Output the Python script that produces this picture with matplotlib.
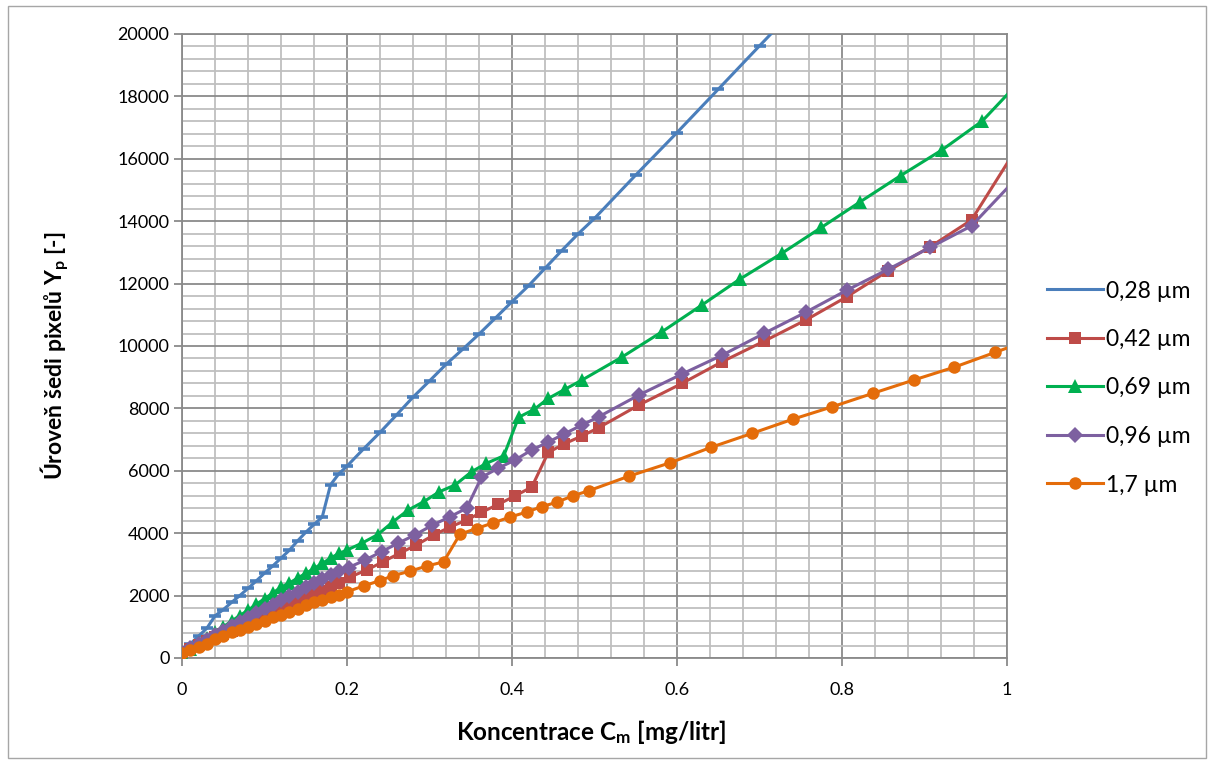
import matplotlib
matplotlib.use("Agg")
import matplotlib.pyplot as plt
from matplotlib.lines import Line2D
from matplotlib.patches import Rectangle
from matplotlib.ticker import MultipleLocator

plt.rcParams['font.family'] = ['Lato', 'DejaVu Sans']
plt.rcParams['mathtext.fontset'] = 'custom'
plt.rcParams['mathtext.rm'] = 'Lato:bold'

# Concentration [mg/litr] and grey level for each particle size
x_028 = [0.00, 0.01, 0.02, 0.03, 0.04, 0.05, 0.06, 0.07, 0.08, 0.09, 0.10,
         0.11, 0.12, 0.13, 0.14, 0.15, 0.16, 0.17, 0.18, 0.19, 0.20,
         0.22, 0.24, 0.26, 0.28, 0.30, 0.32, 0.34, 0.36, 0.38, 0.40,
         0.42, 0.44, 0.46, 0.48, 0.50, 0.55, 0.60, 0.65, 0.70, 0.75]
y_028 = [200, 450, 700, 950, 1350, 1550, 1780, 2000, 2230, 2470, 2720,
         2950, 3200, 3450, 3750, 4030, 4280, 4520, 5550, 5900, 6150,
         6700, 7230, 7790, 8360, 8880, 9410, 9890, 10380, 10900, 11420,
         11930, 12490, 13050, 13590, 14090, 15480, 16840, 18230, 19620, 21000]

x_042 = [0.00, 0.01, 0.02, 0.03, 0.04, 0.05, 0.06, 0.07, 0.08, 0.09, 0.10,
         0.11, 0.12, 0.13, 0.14, 0.15, 0.16, 0.17, 0.18, 0.19,
         0.204, 0.224, 0.244, 0.264, 0.284, 0.305, 0.325, 0.345, 0.363,
         0.383, 0.404, 0.424, 0.444, 0.463, 0.485, 0.505, 0.554, 0.606,
         0.655, 0.706, 0.756, 0.806, 0.856, 0.907, 0.957, 1.05]
y_042 = [180, 300, 420, 540, 660, 770, 880, 1000, 1110, 1230, 1350,
         1470, 1580, 1700, 1810, 1930, 2040, 2160, 2280, 2400,
         2600, 2820, 3090, 3360, 3620, 3940, 4200, 4420, 4670,
         4920, 5200, 5480, 6590, 6860, 7120, 7380, 8110, 8800,
         9500, 10160, 10830, 11580, 12410, 13180, 14040, 17950]

x_069 = [0.00, 0.01, 0.02, 0.03, 0.04, 0.05, 0.06, 0.07, 0.08, 0.09, 0.10,
         0.11, 0.12, 0.13, 0.14, 0.15, 0.16, 0.17, 0.18, 0.19, 0.20,
         0.218, 0.237, 0.256, 0.274, 0.293, 0.312, 0.331, 0.351, 0.369,
         0.390, 0.408, 0.427, 0.444, 0.464, 0.485, 0.533, 0.582, 0.630,
         0.676, 0.727, 0.775, 0.822, 0.871, 0.921, 0.970, 1.02]
y_069 = [120, 300, 480, 650, 830, 1000, 1180, 1360, 1530, 1720, 1900,
         2080, 2270, 2400, 2560, 2710, 2870, 3030, 3200, 3350, 3460,
         3680, 3950, 4370, 4740, 5010, 5330, 5545, 5970, 6240,
         6480, 7715, 7970, 8320, 8610, 8910, 9640, 10460, 11310,
         12140, 12970, 13800, 14620, 15460, 16280, 17210, 18610]

x_096 = [0.00, 0.01, 0.02, 0.03, 0.04, 0.05, 0.06, 0.07, 0.08, 0.09, 0.10,
         0.11, 0.12, 0.13, 0.14, 0.15, 0.16, 0.17, 0.18, 0.19,
         0.202, 0.222, 0.242, 0.262, 0.282, 0.303, 0.325, 0.345, 0.363,
         0.383, 0.404, 0.424, 0.444, 0.463, 0.485, 0.505, 0.554, 0.606,
         0.655, 0.706, 0.756, 0.806, 0.856, 0.907, 0.957, 1.05]
y_096 = [170, 310, 450, 590, 730, 870, 1010, 1150, 1290, 1430, 1570,
         1710, 1850, 1990, 2130, 2270, 2410, 2540, 2670, 2800,
         2900, 3140, 3410, 3680, 3940, 4250, 4530, 4800, 5790,
         6080, 6350, 6670, 6920, 7180, 7470, 7730, 8430, 9100,
         9710, 10410, 11080, 11790, 12460, 13160, 13850, 16450]

x_17 = [0.00, 0.01, 0.02, 0.03, 0.04, 0.05, 0.06, 0.07, 0.08, 0.09, 0.10,
        0.11, 0.12, 0.13, 0.14, 0.15, 0.16, 0.17, 0.18, 0.19, 0.20,
        0.22, 0.24, 0.256, 0.276, 0.297, 0.317, 0.337, 0.357, 0.377,
        0.398, 0.418, 0.436, 0.454, 0.474, 0.493, 0.542, 0.592, 0.641,
        0.691, 0.740, 0.788, 0.837, 0.887, 0.936, 0.986, 1.035]
y_17 = [150, 250, 350, 450, 620, 720, 820, 910, 1000, 1100, 1200,
        1300, 1380, 1470, 1570, 1690, 1790, 1870, 1950, 2030, 2120,
        2310, 2480, 2640, 2780, 2950, 3080, 3970, 4150, 4330,
        4520, 4680, 4850, 4990, 5200, 5360, 5830, 6260, 6750,
        7200, 7650, 8050, 8480, 8910, 9320, 9800, 10270]

labels = ['0,28 µm', '0,42 µm', '0,69 µm', '0,96 µm', '1,7 µm']
colors = ['#4A7EBB', '#BE4B48', '#00B050', '#7D60A0', '#E46C0A']

W, H = 1208, 760
fig = plt.figure(figsize=(W / 100, H / 100), dpi=100)
fig.patches.append(Rectangle((8 / W, 2 / H), 1198 / W, 752 / H,
                             transform=fig.transFigure, fill=False,
                             edgecolor='#A6A6A6', linewidth=1.0))
ax = fig.add_axes([182 / W, 102 / H, 825 / W, 624 / H])

lw = 2.2
styles = [dict(marker='_', ms=9, mew=2.6),
          dict(marker='s', ms=8.5, mew=0),
          dict(marker='^', ms=10, mew=0),
          dict(marker='D', ms=8.5, mew=0),
          dict(marker='o', ms=9, mew=0)]
series = [(x_028, y_028), (x_042, y_042), (x_069, y_069),
          (x_096, y_096), (x_17, y_17)]
for i, (xs, ys) in enumerate(series):
    ax.plot(xs, ys, color=colors[i], lw=lw, zorder=3 + i, **styles[i])

ax.set_xlim(0, 1)
ax.set_ylim(0, 20000)
ax.xaxis.set_major_locator(MultipleLocator(0.2))
ax.xaxis.set_minor_locator(MultipleLocator(0.04))
ax.yaxis.set_major_locator(MultipleLocator(2000))
ax.yaxis.set_minor_locator(MultipleLocator(400))
ax.set_xticks([0, 0.2, 0.4, 0.6, 0.8, 1.0])
ax.set_xticklabels(['0', '0.2', '0.4', '0.6', '0.8', '1'])

ax.grid(which='minor', color='#BFBFBF', lw=1.3, zorder=0)
ax.grid(which='major', color='#8A8A8A', lw=1.3, zorder=1)
ax.set_axisbelow(True)
for s in ax.spines.values():
    s.set_color('#8A8A8A')
    s.set_linewidth(1.3)

ax.tick_params(which='major', direction='out', length=5.5, width=1.3,
               color='#8A8A8A', labelsize=13)
ax.tick_params(axis='y', pad=3.5)
ax.tick_params(axis='x', pad=12)
ax.tick_params(which='minor', length=0)

fig.text(591 / W, 1 - 732 / H, r'Koncentrace C$\mathrm{_m}$ [mg/litr]',
         fontsize=17.5, fontweight='bold', ha='center', va='center')
fig.text(55 / W, 1 - 356 / H, r'Úroveň šedi pixelů Y$\mathrm{_p}$ [-]',
         fontsize=16.5, fontweight='bold', ha='center', va='center',
         rotation=90)

handles = [Line2D([], [], color=colors[0], lw=lw)]
for i in range(1, 5):
    handles.append(Line2D([], [], color=colors[i], lw=lw, **styles[i]))
fig.legend(handles, labels, loc='center left',
           bbox_to_anchor=(1026 / W, 1 - 388 / H), frameon=False,
           fontsize=16.5, handlelength=2.45, handletextpad=0.15,
           labelspacing=1.2)

fig.savefig('out.png', dpi=100)
